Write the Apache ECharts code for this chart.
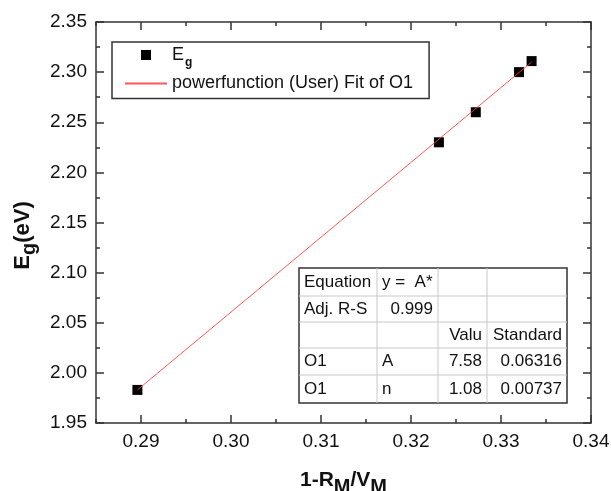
<!DOCTYPE html>
<html>

<head>
    <meta charset="UTF-8">
    <title>Eg vs 1-RM/VM</title>
    <script src="https://cdn.jsdelivr.net/npm/echarts@6/dist/echarts.min.js"></script>
    <style>
        body { margin: 0; background: #fff; }
    </style>
</head>

<body>
    <div id="chart" style="width: 611px; height: 491px;"></div>
    <script>
        // measured points
        var xVals = [0.2896, 0.3231, 0.3272, 0.3320, 0.3334];
        var egVals = [1.983, 2.230, 2.260, 2.300, 2.311];
        // fitted curve (ends)
        var fitX = [0.2896, 0.3334];
        var fitY = [1.983, 2.310];
        var xTicks = [0.29, 0.30, 0.31, 0.32, 0.33, 0.34];
        var fitName = 'powerfunction (User) Fit of O1';
        var tableRows = [
            ['Equation', 'y =  A*', '', ''],
            ['Adj. R-S', '0.999', '', ''],
            ['', '', 'Valu', 'Standard'],
            ['O1', 'A', '7.58', '0.06316'],
            ['O1', 'n', '1.08', '0.00737']
        ];

        var font = "'Liberation Sans', Arial, sans-serif";
        var axisCol = '#333';
        var fitCol = '#ff3a3a';

        var chart = echarts.init(document.getElementById('chart'), null, { renderer: 'canvas' });

        // results table drawn as graphic elements
        var colX = [299, 377, 438, 487, 567];
        var rowY = [268, 296, 322, 348, 375, 403];
        var table = [];
        table.push({
            type: 'rect', shape: { x: colX[0], y: rowY[0], width: colX[4] - colX[0], height: rowY[5] - rowY[0] },
            style: { fill: '#fff', stroke: axisCol, lineWidth: 1.5 }, z: 10
        });
        for (var c = 1; c < 4; c++) {
            table.push({ type: 'line', shape: { x1: colX[c], y1: rowY[0], x2: colX[c], y2: rowY[5] }, style: { stroke: '#c8c8c8', lineWidth: 1 }, z: 11 });
        }
        for (var r = 1; r < 5; r++) {
            table.push({ type: 'line', shape: { x1: colX[0], y1: rowY[r], x2: colX[4], y2: rowY[r] }, style: { stroke: '#c8c8c8', lineWidth: 1 }, z: 11 });
        }
        tableRows.forEach(function (row, ri) {
            row.forEach(function (txt, ci) {
                if (!txt) return;
                var right = ci >= 2 || /^[\d.]+$/.test(txt);
                table.push({
                    type: 'text', z: 12,
                    x: right ? colX[ci + 1] - 5 : colX[ci] + 5,
                    y: (rowY[ri] + rowY[ri + 1]) / 2,
                    style: { text: txt, font: '17px ' + font, fill: '#111', align: right ? 'right' : 'left', verticalAlign: 'middle' }
                });
            });
        });

        function majorX(pos, labels) {
            return {
                type: 'value', position: pos, min: 0.285, max: 0.34,
                axisLine: { show: true, onZero: false, lineStyle: { color: axisCol, width: 1.5 } },
                axisTick: { show: true, inside: true, length: 8, customValues: xTicks, lineStyle: { color: axisCol, width: 1.5 } },
                axisLabel: { show: labels, customValues: xTicks, margin: 9, fontSize: 19, fontFamily: font, color: '#111', formatter: function (v) { return v.toFixed(2); } },
                splitLine: { show: false }
            };
        }
        function minorX(pos) {
            return {
                type: 'value', position: pos, min: 0.285, max: 0.34, interval: 0.005,
                axisLine: { show: false, onZero: false },
                axisTick: { show: true, inside: true, length: 4, lineStyle: { color: axisCol, width: 1.5 } },
                axisLabel: { show: false }, splitLine: { show: false }
            };
        }
        function yAx(pos, labels) {
            return {
                type: 'value', position: pos, min: 1.95, max: 2.35, interval: 0.05,
                axisLine: { show: true, onZero: false, lineStyle: { color: axisCol, width: 1.5 } },
                axisTick: { show: true, inside: true, length: 8, lineStyle: { color: axisCol, width: 1.5 } },
                minorTick: { show: true, splitNumber: 2, length: 4, lineStyle: { color: axisCol, width: 1.5 } },
                axisLabel: { show: labels, margin: 9, fontSize: 19, fontFamily: font, color: '#111', formatter: function (v) { return v.toFixed(2); } },
                splitLine: { show: false }
            };
        }

        var xBottom = majorX('bottom', true);
        xBottom.name = '{b|1-R}{s|M}{b|/V}{s|M}';
        xBottom.nameLocation = 'middle';
        xBottom.nameGap = 40;
        xBottom.nameTextStyle = {
            rich: {
                b: { fontSize: 21, fontWeight: 'bold', fontFamily: font, color: '#111' },
                s: { fontSize: 20, fontWeight: 'bold', fontFamily: font, color: '#111', padding: [14, 0, 0, 0] }
            }
        };
        var yLeft = yAx('left', true);
        yLeft.name = '{b|E}{s|g}{b|(eV)}';
        yLeft.nameLocation = 'middle';
        yLeft.nameRotate = 90;
        yLeft.nameGap = 56;
        yLeft.nameTextStyle = {
            padding: [0, 26, 0, 0],
            rich: {
                b: { fontSize: 22, fontWeight: 'bold', fontFamily: font, color: '#111' },
                s: { fontSize: 20, fontWeight: 'bold', fontFamily: font, color: '#111', padding: [13, 0, 0, 0] }
            }
        };

        var option = {
            backgroundColor: '#fff',
            animation: false,
            color: ['#000', fitCol],
            grid: { left: 96, top: 22, right: 20, bottom: 68, outerBoundsMode: 'none', containLabel: false },
            xAxis: [xBottom, minorX('bottom'), majorX('top', false), minorX('top')],
            yAxis: [yLeft, yAx('right', false)],
            legend: {
                orient: 'vertical', left: 112, top: 42,
                borderColor: axisCol, borderWidth: 1.5, borderRadius: 0,
                padding: [4, 16, 6, 13], itemGap: 6, itemWidth: 42, itemHeight: 10,
                data: [
                    { name: 'Eg', icon: 'path://M0 0H10V10H0Z', itemStyle: { color: '#000', opacity: 1 } },
                    { name: fitName, icon: 'path://M0 0H42V2H0Z', itemStyle: { color: fitCol, opacity: 0.85 } }
                ],
                formatter: function (name) { return name === 'Eg' ? '{t|E}{sub|g}' : name; },
                textStyle: {
                    fontSize: 18, fontFamily: font, color: '#111',
                    rich: {
                        t: { fontSize: 18, fontFamily: font, color: '#111' },
                        sub: { fontSize: 12, fontWeight: 'bold', fontFamily: font, color: '#111', padding: [15, 0, 0, 1] }
                    }
                }
            },
            graphic: table,
            series: [
                {
                    name: 'Eg', type: 'scatter', xAxisIndex: 0, yAxisIndex: 0,
                    symbol: 'rect', symbolSize: 10,
                    itemStyle: { color: '#000', opacity: 1 },
                    data: xVals.map(function (x, i) { return [x, egVals[i]]; }), z: 2
                },
                {
                    name: fitName, type: 'line', xAxisIndex: 0, yAxisIndex: 0,
                    symbol: 'none', itemStyle: { color: fitCol },
                    lineStyle: { color: fitCol, width: 1, opacity: 0.85 },
                    data: fitX.map(function (x, i) { return [x, fitY[i]]; }), z: 3
                }
            ]
        };
        chart.setOption(option);
    </script>
</body>

</html>
